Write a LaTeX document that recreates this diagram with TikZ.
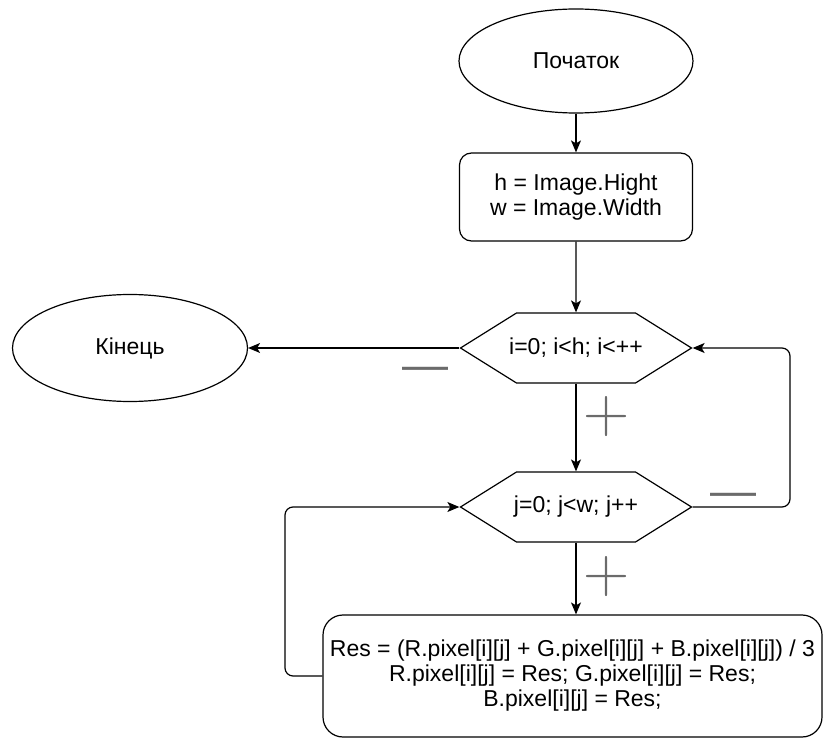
\documentclass[tikz,border=0pt]{standalone}
\usepackage{fontspec}
\setmainfont{Liberation Sans}
\usetikzlibrary{shapes.geometric, shapes.symbols, arrows.meta}
\definecolor{signgray}{rgb}{0.42,0.42,0.42}
\newcommand{\hexbody}[1]{\makebox[119pt]{#1}}

\begin{document}
\begin{tikzpicture}[x=1pt, y=-1pt, line width=1.2pt,
    term/.style={ellipse, draw, minimum width=234pt, minimum height=104pt, inner sep=0pt, font=\fontsize{23}{26}\selectfont},
    box/.style={rectangle, rounded corners=12pt, draw, minimum width=233pt, minimum height=88pt, align=center, font=\fontsize{23}{25}\selectfont},
    loopbox/.style={signal, signal to=west and east, signal pointer angle=64, draw, minimum height=70pt, inner sep=0pt, font=\fontsize{23}{26}\selectfont},
    arrow/.style={-{Stealth[length=12pt, width=10pt, inset=3pt]}},
    plusmark/.style={text=signgray, inner sep=0pt, font=\fontfamily{lmr}\fontsize{64}{64}\selectfont},
    minusmark/.style={text=signgray, inner sep=0pt, font=\fontsize{46}{46}\selectfont}
]
\useasboundingbox (0,0) rectangle (823,738);

\node[term] (start) at (576,61) {Початок};
\node[box] (init) at (576,197) {h = Image.Hight\\w = Image.Width};
\node[loopbox] (outer) at (576,348) {\hexbody{i=0; i<h; i<++}};
\node[term, minimum width=235pt, minimum height=107pt] (finish) at (130,348) {Кінець};
\node[loopbox] (inner) at (576,507) {\hexbody{j=0; j<w; j++}};
\node[box, rounded corners=20pt, minimum width=499pt, minimum height=122pt] (body) at (572.5,676) {Res = (R.pixel[i][j] + G.pixel[i][j] + B.pixel[i][j]) / 3\\R.pixel[i][j] = Res; G.pixel[i][j] = Res;\\B.pixel[i][j] = Res;};

\node[minusmark] (no1) at (425,374) {—};
\node[plusmark] (yes1) at (607,417) {+};
\node[minusmark] (no2) at (733,500) {—};
\node[plusmark] (yes2) at (607,577) {+};

\draw[arrow] (start) -- (init);
\draw[arrow] (init) -- (outer);
\draw[arrow] (outer.west) -- (finish.east);
\draw[arrow] (outer.south) -- (inner.north);
\draw[arrow] (inner.south) -- (inner.south |- body.north);
\draw[arrow, rounded corners=8pt] (inner.east) -- (790,507) -- (790,348) -- (outer.east);
\draw[arrow, rounded corners=8pt] (body.west) -- (285,676) -- (285,507) -- (inner.west);

\end{tikzpicture}
\end{document}
